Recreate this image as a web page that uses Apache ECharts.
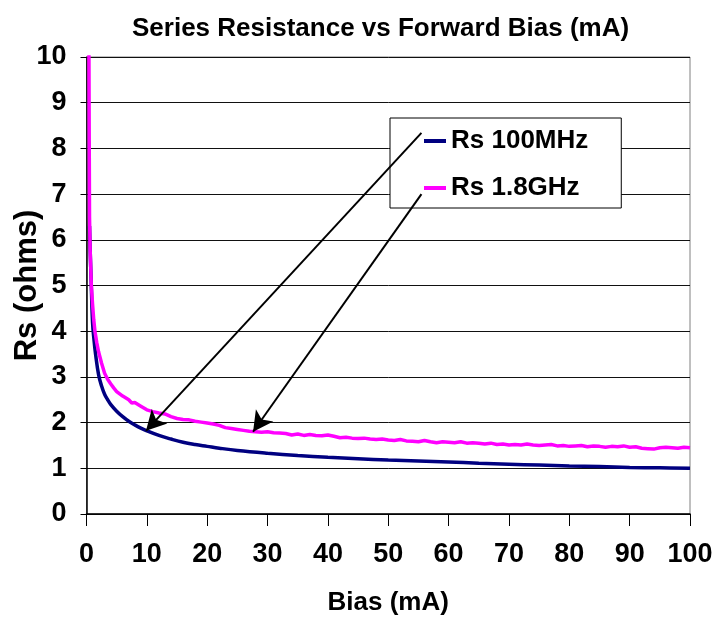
<!DOCTYPE html>
<html>
<head>
<meta charset="utf-8">
<script src="https://cdn.jsdelivr.net/npm/echarts@6/dist/echarts.min.js"></script>
<style>
html,body{margin:0;padding:0;background:#fff;}
#chart{width:723px;height:620px;}
</style>
</head>
<body>
<div id="chart"></div>
<script>
// Values
var seriesNames = ['Rs 100MHz', 'Rs 1.8GHz'];
var xTicks = [0, 10, 20, 30, 40, 50, 60, 70, 80, 90, 100];
var yTicks = [0, 1, 2, 3, 4, 5, 6, 7, 8, 9, 10];

var blueX = [0.5, 0.6, 0.75, 1, 1.25, 1.5, 2, 2.5, 3, 3.5, 4, 5, 6, 7, 8, 9, 10, 12, 14, 16, 18, 20, 22, 25, 30, 35, 40, 45, 50, 55, 60, 65, 70, 75, 80, 85, 90, 95, 100];
var blueY = [6.3, 5.8, 5.2, 4.2, 3.8, 3.5, 3.05, 2.8, 2.62, 2.5, 2.4, 2.25, 2.13, 2.03, 1.95, 1.88, 1.82, 1.72, 1.64, 1.57, 1.52, 1.48, 1.44, 1.39, 1.33, 1.28, 1.24, 1.21, 1.18, 1.16, 1.14, 1.11, 1.09, 1.07, 1.05, 1.04, 1.02, 1.01, 1.0];

var pinkX = [0.4, 0.45, 0.5, 0.6, 0.8, 1, 1.2, 1.4, 1.7, 2, 2.5, 3, 3.5, 4, 4.5, 5, 6, 7, 7.5, 8, 9,
  10, 11, 12, 13, 14, 15, 16, 17, 18, 19, 20, 21, 22, 23, 24, 25, 26, 27, 28, 29, 30,
  31, 32, 33, 34, 35, 36, 37, 38, 39, 40, 41, 42, 43, 44, 45, 46, 47, 48, 49, 50,
  51, 52, 53, 54, 55, 56, 57, 58, 59, 60, 61, 62, 63, 64, 65, 66, 67, 68, 69, 70,
  71, 72, 73, 74, 75, 76, 77, 78, 79, 80, 81, 82, 83, 84, 85, 86, 87, 88, 89, 90,
  91, 92, 93, 94, 95, 96, 97, 98, 99, 100];
var pinkY = [10.3, 8.2, 6.5, 5.8, 5.0, 4.6, 4.25, 4.0, 3.75, 3.55, 3.3, 3.08, 2.95, 2.85, 2.76, 2.68, 2.58, 2.5, 2.43, 2.44, 2.36,
  2.28, 2.24, 2.21, 2.19, 2.13, 2.09, 2.07, 2.06, 2.03, 2.01, 1.99, 1.97, 1.94, 1.89, 1.87, 1.85, 1.83, 1.81, 1.80, 1.79, 1.80,
  1.78, 1.77, 1.76, 1.73, 1.75, 1.72, 1.74, 1.72, 1.71, 1.73, 1.70, 1.67, 1.68, 1.66, 1.65, 1.66, 1.64, 1.63, 1.64, 1.62,
  1.61, 1.63, 1.60, 1.59, 1.58, 1.61, 1.58, 1.56, 1.58, 1.57, 1.56, 1.58, 1.55, 1.56, 1.55, 1.53, 1.55, 1.52, 1.53, 1.51,
  1.52, 1.51, 1.53, 1.51, 1.50, 1.51, 1.52, 1.49, 1.50, 1.48, 1.49, 1.50, 1.47, 1.49, 1.48, 1.46, 1.48, 1.47, 1.49, 1.46,
  1.47, 1.44, 1.43, 1.42, 1.45, 1.46, 1.45, 1.44, 1.46, 1.45];

// Annotation arrows (data coordinates): from legend to curve
var arrowBlue = [[55.5, 8.34], [9.86, 1.82]];
var arrowPink = [[55.5, 7.0], [27.6, 1.80]];

function pairs(xs, ys) { return xs.map(function (x, i) { return [x, ys[i]]; }); }

var FONT = '"Liberation Sans", Arial, Helvetica, sans-serif';
var chart = echarts.init(document.getElementById('chart'), null, { renderer: 'canvas' });

var arrowStyle = {
  silent: true,
  symbol: ['none', 'arrow'],
  symbolSize: [16, 20],
  label: { show: false },
  lineStyle: { color: '#000', width: 2, type: 'solid' },
  emphasis: { disabled: true },
  animation: false
};

chart.setOption({
  animation: false,
  backgroundColor: '#fff',
  title: {
    text: 'Series Resistance vs Forward Bias (mA)',
    left: 127,
    top: 11,
    textStyle: { fontFamily: FONT, fontWeight: 'bold', fontSize: 26, color: '#000' }
  },
  legend: {
    data: seriesNames,
    orient: 'vertical',
    left: 390,
    top: 118,
    padding: [8, 33, 5, 34],
    itemGap: 17,
    itemWidth: 22,
    itemHeight: 4,
    icon: 'rect',
    backgroundColor: '#fff',
    borderColor: '#000',
    borderWidth: 1,
    textStyle: { fontFamily: FONT, fontWeight: 'bold', fontSize: 26, color: '#000', lineHeight: 30 }
  },
  grid: {
    left: 86.5, right: 33, top: 57, bottom: 106,
    show: true, borderColor: '#808080', borderWidth: 1,
    containLabel: false,
    outerBoundsMode: 'none'
  },
  xAxis: {
    type: 'value',
    min: xTicks[0], max: xTicks[xTicks.length - 1], interval: 10,
    name: 'Bias (mA)', nameLocation: 'middle', nameGap: 76,
    nameMoveOverlap: false,
    nameTextStyle: { fontFamily: FONT, fontWeight: 'bold', fontSize: 26, color: '#000' },
    axisLine: { show: true, lineStyle: { color: '#000', width: 1.5 } },
    axisTick: { show: true, inside: false, length: 12, lineStyle: { color: '#000' } },
    axisLabel: { margin: 27, fontFamily: FONT, fontWeight: 'bold', fontSize: 27, color: '#000' },
    splitLine: { show: false }
  },
  yAxis: {
    type: 'value',
    min: yTicks[0], max: yTicks[yTicks.length - 1], interval: 1,
    name: 'Rs (ohms)', nameLocation: 'middle', nameGap: 44, nameRotate: 90,
    nameMoveOverlap: false,
    nameTextStyle: { fontFamily: FONT, fontWeight: 'bold', fontSize: 31, color: '#000' },
    axisLine: { show: true, lineStyle: { color: '#000', width: 1.5 } },
    axisTick: { show: true, inside: false, length: 6, lineStyle: { color: '#000' } },
    axisLabel: { margin: 20, fontFamily: FONT, fontWeight: 'bold', fontSize: 27, color: '#000' },
    splitLine: { show: true, lineStyle: { color: '#111', width: 1 } }
  },
  series: [
    {
      name: seriesNames[0],
      type: 'line',
      data: pairs(blueX, blueY),
      showSymbol: false,
      smooth: 0.4,
      clip: true,
      color: '#000080',
      lineStyle: { color: '#000080', width: 3.5 },
      markLine: Object.assign({}, arrowStyle, {
        data: [[{ coord: arrowBlue[0] }, { coord: arrowBlue[1] }]]
      })
    },
    {
      name: seriesNames[1],
      type: 'line',
      data: pairs(pinkX, pinkY),
      showSymbol: false,
      smooth: false,
      clip: true,
      color: '#ff00ff',
      lineStyle: { color: '#ff00ff', width: 3.5 },
      markLine: Object.assign({}, arrowStyle, {
        data: [[{ coord: arrowPink[0] }, { coord: arrowPink[1] }]]
      })
    }
  ]
});
</script>
</body>
</html>
